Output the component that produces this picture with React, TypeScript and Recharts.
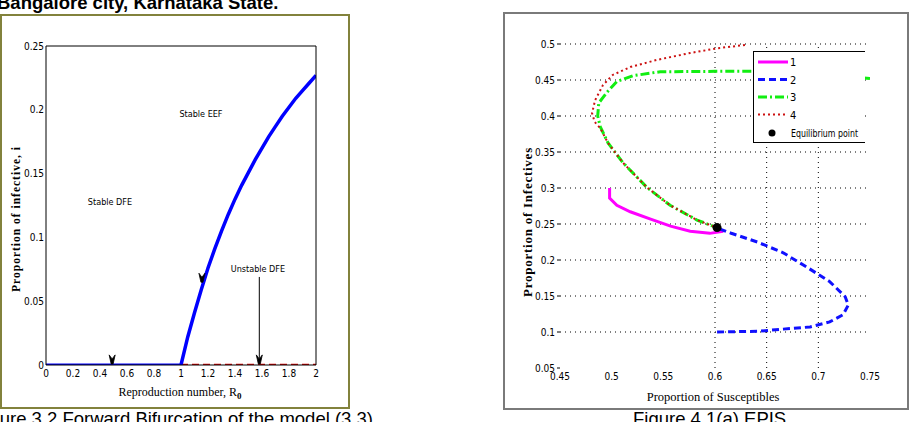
import React from "react";
import { ComposedChart, Line, Scatter, XAxis, YAxis, ReferenceLine, ReferenceDot } from "recharts";

// ---- Figure 3.2 (bifurcation) ----
const rTicks = [0, 0.2, 0.4, 0.6, 0.8, 1, 1.2, 1.4, 1.6, 1.8, 2];
const iTicks = [0, 0.05, 0.1, 0.15, 0.2, 0.25];
const stableDfe = [{ r: 0, i: 0 }, { r: 1, i: 0 }];
const unstableDfe = [{ r: 1, i: 0 }, { r: 2, i: 0 }];
const eeR = [1, 1.05, 1.1, 1.15, 1.2, 1.25, 1.3, 1.35, 1.4, 1.45, 1.5, 1.55, 1.6, 1.65, 1.7, 1.75, 1.8, 1.85, 1.9, 1.95, 2];
const eeI = [0, 0.022, 0.041, 0.059, 0.076, 0.091, 0.105, 0.118, 0.13, 0.141, 0.151, 0.161, 0.17, 0.179, 0.187, 0.195, 0.202, 0.209, 0.215, 0.221, 0.227];
const endemic = eeR.map((r, k) => ({ r, i: eeI[k] }));
const arrowMarks = [{ r: 0.49, i: 0.004 }, { r: 1.155, i: 0.068 }, { r: 1.58, i: 0.004 }];

// ---- Figure 4.1(a) (phase plane) ----
const sTicks = [0.45, 0.5, 0.55, 0.6, 0.65, 0.7, 0.75];
const infTicks = [0.05, 0.1, 0.15, 0.2, 0.25, 0.3, 0.35, 0.4, 0.45, 0.5];
const gridRows = [0.1, 0.15, 0.2, 0.25, 0.3, 0.35, 0.4, 0.45, 0.5];
const gridCols = [0.6, 0.65, 0.7];

const t1S = [0.498, 0.498, 0.505, 0.518, 0.537, 0.557, 0.576, 0.595, 0.608];
const t1I = [0.3, 0.286, 0.276, 0.267, 0.257, 0.247, 0.24, 0.237, 0.24];
const t2S = [0.602, 0.641, 0.666, 0.692, 0.711, 0.724, 0.729, 0.726, 0.711, 0.689, 0.666, 0.641, 0.615, 0.605];
const t2I = [0.1, 0.101, 0.104, 0.107, 0.114, 0.124, 0.1375, 0.149, 0.17, 0.19, 0.21, 0.225, 0.2375, 0.243];
const t3S = [0.75, 0.7, 0.65, 0.6, 0.547, 0.521, 0.505, 0.4955, 0.4875, 0.4865, 0.489, 0.4965, 0.511, 0.534, 0.5565, 0.5826, 0.6];
const t3I = [0.452, 0.459, 0.462, 0.462, 0.4615, 0.456, 0.448, 0.433, 0.418, 0.4, 0.385, 0.3625, 0.335, 0.301, 0.276, 0.2555, 0.246];
const t4S = [0.629, 0.602, 0.576, 0.544, 0.518, 0.501, 0.4916, 0.484, 0.481, 0.4835, 0.489, 0.4965, 0.511, 0.534, 0.5565, 0.5826, 0.6];
const t4I = [0.4986, 0.494, 0.4875, 0.478, 0.468, 0.457, 0.443, 0.422, 0.404, 0.392, 0.383, 0.3625, 0.335, 0.301, 0.276, 0.2555, 0.246];
const equilibrium = [{ s: 0.602, inf: 0.245 }];

const zip = (s: number[], v: number[]) => s.map((x, k) => ({ s: x, inf: v[k] }));
const traj1 = zip(t1S, t1I);
const traj2 = zip(t2S, t2I);
const traj3 = zip(t3S, t3I);
const traj4 = zip(t4S, t4I);

const NARROW = "'Liberation Sans Narrow', 'DejaVu Sans Condensed', 'Liberation Sans', Arial, sans-serif";
const SERIF = "'Liberation Serif', 'Times New Roman', serif";
const SANS = "'Liberation Sans', Arial, sans-serif";
const tickStyle = { fontSize: 10, fontFamily: NARROW, fill: "#000" };
const fmt = (v: number) => String(v);

const ArrowHead = (props: any) => {
  const { cx, cy } = props;
  return <path d={`M${cx - 3},${cy - 5} L${cx},${cy - 1} L${cx + 3},${cy - 5} L${cx + 1},${cy + 4} L${cx - 1},${cy + 4} Z`} fill="#000" stroke="#000" strokeWidth={0.8} />;
};

function BifurcationChart() {
  const ax = { xAxisId: "x", yAxisId: "y" };
  return (
    <ComposedChart width={350} height={422} margin={{ top: 46, right: 34, bottom: 27, left: 0 }}>
      <XAxis xAxisId="x" type="number" dataKey="r" domain={[0, 2]} ticks={rTicks} allowDataOverflow
        tickFormatter={fmt} tick={tickStyle} tickLine={false} tickSize={0} tickMargin={5} axisLine={{ stroke: "#000" }} height={30} />
      <XAxis xAxisId="xin" type="number" dataKey="r" domain={[0, 2]} ticks={rTicks} allowDataOverflow orientation="bottom" mirror tick={false} tickSize={4} tickLine={{ stroke: "#000" }} axisLine={false} />
      <XAxis xAxisId="xtop" type="number" dataKey="r" domain={[0, 2]} ticks={rTicks} allowDataOverflow orientation="top" mirror tick={false} tickSize={4} tickLine={{ stroke: "#000" }} axisLine={{ stroke: "#000" }} />
      <YAxis yAxisId="y" type="number" domain={[0, 0.25]} ticks={iTicks} allowDataOverflow
        tickFormatter={fmt} tick={tickStyle} tickLine={false} tickSize={0} tickMargin={2} axisLine={{ stroke: "#000" }} width={46} />
      <YAxis yAxisId="yin" type="number" domain={[0, 0.25]} ticks={iTicks} allowDataOverflow orientation="left" mirror tick={false} tickSize={4} tickLine={{ stroke: "#000" }} axisLine={false} />
      <YAxis yAxisId="yright" type="number" domain={[0, 0.25]} ticks={iTicks} allowDataOverflow orientation="right" mirror tick={false} tickSize={4} tickLine={{ stroke: "#000" }} axisLine={{ stroke: "#000" }} />

      <Line {...ax} data={stableDfe} dataKey="i" stroke="#0000ff" strokeWidth={3} dot={false} isAnimationActive={false} />
      <Line {...ax} data={unstableDfe} dataKey="i" stroke="#e00000" strokeWidth={2.5} strokeDasharray="7 4" dot={false} isAnimationActive={false} />
      <Line {...ax} data={endemic} dataKey="i" stroke="#0000ff" strokeWidth={3.5} dot={false} isAnimationActive={false} />
      <ReferenceLine {...ax} segment={[{ x: 1.58, y: 0.069 }, { x: 1.58, y: 0.005 }]} stroke="#000" strokeWidth={1} />
      <Scatter {...ax} data={arrowMarks} dataKey="i" shape={ArrowHead} isAnimationActive={false} />

      <ReferenceDot {...ax} x={1.148} y={0.197} r={0} fill="none" stroke="none"
        label={{ value: "Stable EEF", position: "center", fontSize: 9, fontFamily: NARROW, fill: "#000" }} />
      <ReferenceDot {...ax} x={0.474} y={0.128} r={0} fill="none" stroke="none"
        label={{ value: "Stable DFE", position: "center", fontSize: 9, fontFamily: NARROW, fill: "#000" }} />
      <ReferenceDot {...ax} x={1.57} y={0.075} r={0} fill="none" stroke="none"
        label={{ value: "Unstable DFE", position: "center", fontSize: 9, fontFamily: NARROW, fill: "#000" }} />
    </ComposedChart>
  );
}

function PhaseChart() {
  const grid = { stroke: "#000", strokeWidth: 1, strokeDasharray: "1 4" };
  return (
    <ComposedChart width={400} height={422} margin={{ top: 44, right: 20, bottom: 24, left: 0 }}>
      <XAxis type="number" dataKey="s" domain={[0.45, 0.75]} ticks={sTicks} allowDataOverflow
        tickFormatter={fmt} tick={tickStyle} tickLine={false} tickSize={0} tickMargin={5} axisLine={false} height={30} />
      <YAxis type="number" dataKey="inf" domain={[0.05, 0.5]} ticks={infTicks} allowDataOverflow
        tickFormatter={fmt} tick={tickStyle} tickLine={{ stroke: "#000" }} tickSize={3} tickMargin={2} axisLine={false} width={70} />
      {gridRows.map((v) => (
        <ReferenceLine key={"h" + v} y={v} {...grid} />
      ))}
      {gridCols.map((v) => (
        <ReferenceLine key={"v" + v} x={v} {...grid} />
      ))}
      <Line data={traj3} dataKey="inf" stroke="#11ee11" strokeWidth={3} strokeDasharray="9 3 2 3" dot={false} isAnimationActive={false} />
      <Line data={traj4} dataKey="inf" stroke="#cc1111" strokeWidth={2} strokeDasharray="2 3" dot={false} isAnimationActive={false} />
      <Line data={traj1} dataKey="inf" stroke="#ff00ff" strokeWidth={3} dot={false} isAnimationActive={false} />
      <Line data={traj2} dataKey="inf" stroke="#1010ff" strokeWidth={3} strokeDasharray="7 4" dot={false} isAnimationActive={false} />
      <Scatter data={equilibrium} dataKey="inf" fill="#000" shape="circle" isAnimationActive={false} />
    </ComposedChart>
  );
}

function PhaseLegend() {
  const rows = [
    { label: "1", stroke: "#ff00ff", dash: undefined, w: 3 },
    { label: "2", stroke: "#1010ff", dash: "7 4", w: 3 },
    { label: "3", stroke: "#11ee11", dash: "9 3 2 3", w: 3 },
    { label: "4", stroke: "#cc1111", dash: "2 3", w: 2 },
  ];
  return (
    <div style={{ position: "absolute", left: 753, top: 51, width: 112, height: 92, background: "#fff", borderLeft: "1px solid #000", borderTop: "1px solid #000", borderBottom: "1px solid #000", boxSizing: "border-box" }}>
      <svg width={112} height={92} style={{ position: "absolute", left: -1, top: -1 }}>
        {rows.map((r, k) => (
          <g key={r.label}>
            <line x1={5} x2={35} y1={11 + k * 17.5} y2={11 + k * 17.5} stroke={r.stroke} strokeWidth={r.w} strokeDasharray={r.dash} />
            <text x={37} y={11 + k * 17.5 + 4} fontSize={11} fontFamily={NARROW}>{r.label}</text>
          </g>
        ))}
        <circle cx={19} cy={82} r={3.5} fill="#000" />
        <text x={38} y={86} fontSize={10} fontFamily={NARROW} textLength={67} lengthAdjust="spacingAndGlyphs">Equilibrium point</text>
      </svg>
    </div>
  );
}

export default function App() {
  return (
    <div style={{ position: "relative", width: 912, height: 422, overflow: "hidden", background: "#fff" }}>
      <style>{`body{margin:0}`}</style>
      <div style={{ position: "absolute", left: -3, top: -6, fontFamily: SANS, fontWeight: "bold", fontSize: 18.5, whiteSpace: "nowrap", lineHeight: "18px" }}>
        Bangalore city, Karnataka State.
      </div>
      <div style={{ position: "absolute", left: 0, top: 14, width: 350, height: 395, border: "2px solid #82823c", boxSizing: "border-box" }} />
      <div style={{ position: "absolute", left: 503, top: 12, width: 406, height: 398, border: "2px solid #7a7a7a", boxSizing: "border-box" }} />

      <div style={{ position: "absolute", left: 0, top: 0 }}>
        <BifurcationChart />
      </div>
      <div style={{ position: "absolute", left: 490, top: 0 }}>
        <PhaseChart />
      </div>
      <PhaseLegend />

      {/* axis titles */}
      <div style={{ position: "absolute", left: 16, top: 219, transform: "translate(-50%, -50%) rotate(-90deg)", fontFamily: SERIF, fontWeight: "bold", fontSize: 11.5, letterSpacing: 1.0, whiteSpace: "nowrap" }}>
        Proportion of infective, i
      </div>
      <div style={{ position: "absolute", left: 180, top: 393, transform: "translate(-50%, -50%)", fontFamily: SERIF, fontSize: 12, whiteSpace: "nowrap" }}>
        Reproduction number, R<sub style={{ fontSize: 9, fontWeight: "bold" }}>0</sub>
      </div>
      <div style={{ position: "absolute", left: 528, top: 222, transform: "translate(-50%, -50%) rotate(-90deg)", fontFamily: SERIF, fontWeight: "bold", fontSize: 13, letterSpacing: 0.75, whiteSpace: "nowrap" }}>
        Proportion of Infectives
      </div>
      <div style={{ position: "absolute", left: 713, top: 397, transform: "translate(-50%, -50%)", fontFamily: SERIF, fontSize: 12.5, whiteSpace: "nowrap" }}>
        Proportion of Susceptibles
      </div>

      {/* captions */}
      <div style={{ position: "absolute", left: -26, top: 409, fontFamily: SANS, fontSize: 18.5, whiteSpace: "nowrap", lineHeight: "20px" }}>
        Figure 3.2 Forward Bifurcation of the model (3.3)
      </div>
      <div style={{ position: "absolute", left: 633, top: 409, fontFamily: SANS, fontSize: 18.5, whiteSpace: "nowrap", lineHeight: "20px" }}>
        Figure 4.1(a) EPIS
      </div>
    </div>
  );
}
